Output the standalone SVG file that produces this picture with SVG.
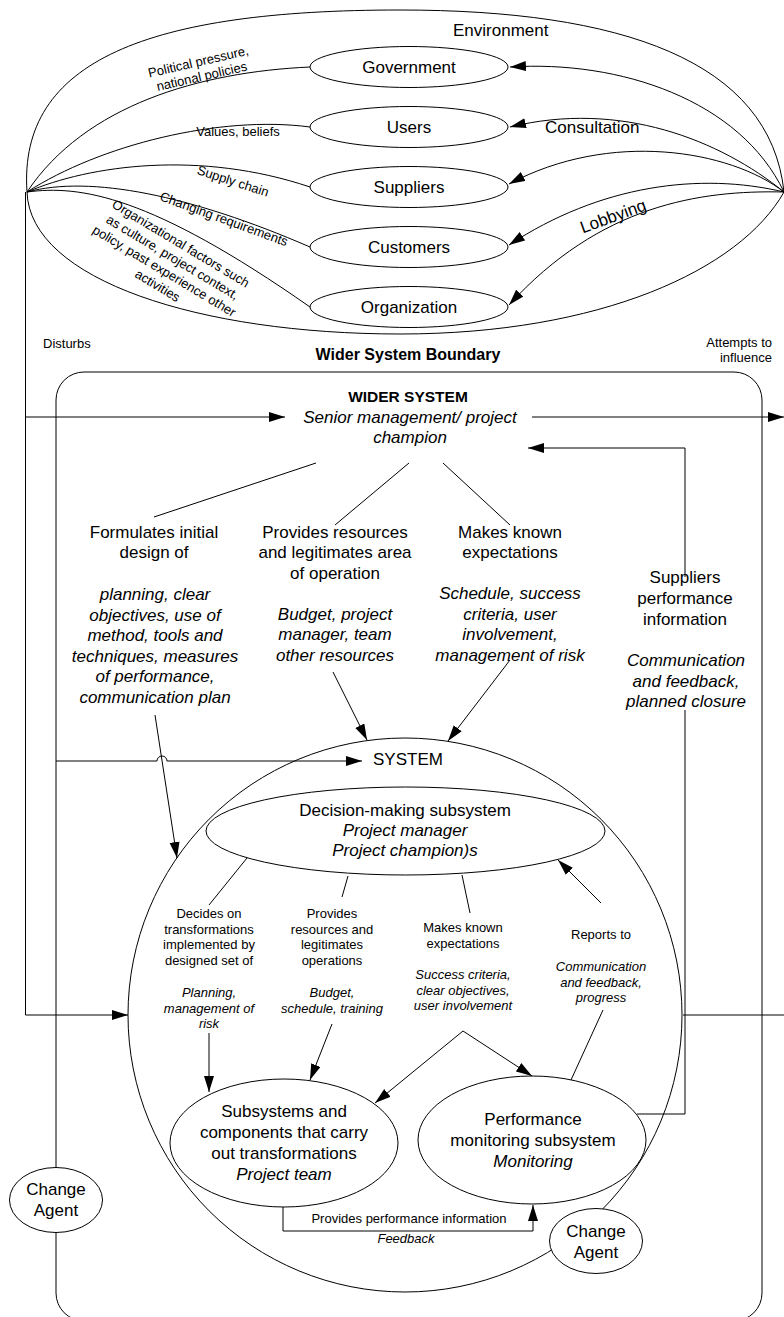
<svg xmlns="http://www.w3.org/2000/svg" width="784" height="1317" viewBox="0 0 784 1317">
  <style>
    text { font-family: "Liberation Sans", Arial, sans-serif; fill: #000; }
    .t17 { font-size: 17px; }
    .t13 { font-size: 13px; }
    .it { font-style: italic; }
    .b { font-weight: bold; }
    .mid { text-anchor: middle; }
    .end { text-anchor: end; }
    .ln { fill: none; stroke: #000; stroke-width: 1; }
    .arr { fill: none; stroke: #000; stroke-width: 1; marker-end: url(#head); }
    .node { fill: #fff; stroke: #000; stroke-width: 1; }
    .open { fill: none; stroke: #000; stroke-width: 1; }
  </style>
  <defs>
    <marker id="head" markerUnits="userSpaceOnUse" markerWidth="17" markerHeight="11" refX="16" refY="5" orient="auto">
      <path d="M0,0 L16,5 L0,10 z" fill="#000"/>
    </marker>
  </defs>
  <rect width="784" height="1317" fill="#fff"/>

  <!-- environment boundary (lens shape) -->
  <g id="environment">
    <path class="ln" d="M27,192 C18,60 150,10 400,10 C620,10 770,60 784,192"/>
    <path class="ln" d="M27,192 C30,280 200,334 400,334 C600,334 740,270 784,192"/>
    <text class="t17" x="453" y="36">Environment</text>
  </g>

  <!-- wider system boundary -->
  <g id="wider-system-boundary">
    <rect class="open" x="56" y="372" width="706" height="949" rx="28" ry="28"/>
    <text class="b mid" style="font-size:16px" x="408" y="360">Wider System Boundary</text>
  </g>

  <!-- the system -->
  <g id="system">
    <circle class="open" cx="405" cy="1015" r="277"/>
    <text class="t17" x="373" y="765">SYSTEM</text>
  </g>

  <!-- environment actors -->
  <g id="government">
    <ellipse class="node" cx="409" cy="67" rx="99" ry="20.5"/>
    <text class="t17 mid" x="409" y="73">Government</text>
  </g>
  <g id="users">
    <ellipse class="node" cx="409" cy="127" rx="99" ry="20.5"/>
    <text class="t17 mid" x="409" y="133">Users</text>
  </g>
  <g id="suppliers">
    <ellipse class="node" cx="409" cy="187" rx="99" ry="20.5"/>
    <text class="t17 mid" x="409" y="193">Suppliers</text>
  </g>
  <g id="customers">
    <ellipse class="node" cx="409" cy="247" rx="99" ry="20.5"/>
    <text class="t17 mid" x="409" y="253">Customers</text>
  </g>
  <g id="organization">
    <ellipse class="node" cx="409" cy="307" rx="99" ry="20.5"/>
    <text class="t17 mid" x="409" y="313">Organization</text>
  </g>

  <!-- wider system -->
  <g id="wider-system">
    <text class="b mid" style="font-size:15.5px" x="408" y="402">WIDER SYSTEM</text>
    <text class="t17 it mid" x="410" y="423">Senior management/ project</text>
    <text class="t17 it mid" x="410" y="443">champion</text>
  </g>

  <!-- subsystems -->
  <g id="decision-making">
    <ellipse class="open" cx="405.5" cy="831" rx="199.5" ry="44"/>
    <text class="t17 mid" x="405" y="816">Decision-making subsystem</text>
    <text class="t17 it mid" x="405" y="836">Project manager</text>
    <text class="t17 it mid" x="405" y="856">Project champion)s</text>
  </g>
  <g id="transformations">
    <ellipse class="open" cx="284" cy="1143" rx="114" ry="64"/>
    <text class="t17 mid" x="284" y="1117">Subsystems and</text>
    <text class="t17 mid" x="284" y="1138">components that carry</text>
    <text class="t17 mid" x="284" y="1159">out transformations</text>
    <text class="t17 it mid" x="284" y="1180">Project team</text>
  </g>
  <g id="monitoring">
    <ellipse class="open" cx="532" cy="1140" rx="114" ry="64"/>
    <text class="t17 mid" x="533" y="1125">Performance</text>
    <text class="t17 mid" x="533" y="1146">monitoring subsystem</text>
    <text class="t17 it mid" x="533" y="1167">Monitoring</text>
  </g>
  <g id="change-agent-left">
    <ellipse class="node" cx="56" cy="1200" rx="46.5" ry="32.5"/>
    <text class="t17 mid" x="56" y="1195">Change</text>
    <text class="t17 mid" x="56" y="1216">Agent</text>
  </g>
  <g id="change-agent-right">
    <ellipse class="node" cx="596" cy="1241" rx="46.5" ry="32.5"/>
    <text class="t17 mid" x="596" y="1237">Change</text>
    <text class="t17 mid" x="596" y="1258">Agent</text>
  </g>

  <!-- connectors -->
  <g id="connectors">
    <!-- environment influences on the actors -->
    <path class="ln" d="M27,192 C85,105 200,72 310,67"/>
    <path class="ln" d="M27,192 C100,145 220,115 310,127"/>
    <path class="ln" d="M27,192 C90,165 200,150 310,187"/>
    <path class="ln" d="M27,192 C90,175 190,195 310,247"/>
    <path class="ln" d="M27,192 C80,185 150,195 310,307"/>

    <!-- lobbying / consultation from the wider system -->
    <path class="arr" d="M784,192 C740,100 620,60 510,67"/>
    <path class="arr" d="M784,192 C720,140 620,100 510,127"/>
    <path class="arr" d="M784,192 C730,150 610,130 509,184"/>
    <path class="arr" d="M784,192 C700,172 600,185 509,245"/>
    <path class="arr" d="M784,192 C700,190 600,205 509,305"/>

    <!-- disturbances -->
    <path class="ln" d="M25.5,192 V1015"/>
    <path class="arr" d="M25.5,417 H285"/>
    <path class="arr" d="M25.5,1015 H128"/>
    <path class="arr" d="M56,761 H157 A5,5 0 0 1 167,761 H362"/>

    <!-- attempts to influence -->
    <path class="arr" d="M532,417 H784"/>
    <path class="ln" d="M683,1015 H784"/>

    <!-- wider system outputs -->
    <path class="ln" d="M316,463 L154,517"/>
    <path class="ln" d="M409,463 L335,525"/>
    <path class="ln" d="M443,463 L510,525"/>
    <path class="arr" d="M155,715 L177,858"/>
    <path class="arr" d="M333,672 L367,740"/>
    <path class="arr" d="M510,660 L448,741"/>

    <!-- supplier performance feedback -->
    <path class="ln" d="M637,1114 H685 V710"/>
    <path class="arr" d="M685,577 V448 H528"/>

    <!-- decision-making outputs -->
    <path class="ln" d="M247,858 L209,905"/>
    <path class="ln" d="M348,876 L342,897"/>
    <path class="ln" d="M462,875 L470,913"/>
    <path class="arr" d="M209,1033 V1092"/>
    <path class="arr" d="M332,1024 L310,1080"/>
    <path class="arr" d="M463,1031 L375,1103"/>
    <path class="arr" d="M463,1031 L532,1076"/>

    <!-- reporting -->
    <path class="arr" d="M601,903 L558,860"/>
    <path class="ln" d="M603,1010 L571,1080"/>

    <!-- performance information -->
    <path class="arr" d="M283,1207 V1231 H533 V1205"/>
  </g>

  <!-- connector labels -->
  <g id="labels">
    <text class="t13 mid" transform="translate(200,69) rotate(-13)"><tspan x="0" y="-3">Political pressure,</tspan><tspan x="0" y="12">national policies</tspan></text>
    <text class="t13 mid" x="238" y="136">Values, beliefs</text>
    <text class="t13 mid" transform="translate(233,181) rotate(18)" x="0" y="4.5">Supply chain</text>
    <text class="t13 mid" transform="translate(224,219) rotate(20)" x="0" y="4.5">Changing requirements</text>
    <text class="t13 mid" transform="translate(170,265) rotate(31)">
      <tspan x="0" y="-19.5">Organizational factors such</tspan>
      <tspan x="0" y="-3.5">as culture, project context,</tspan>
      <tspan x="0" y="12.5">policy, past experience other</tspan>
      <tspan x="0" y="28.5">activities</tspan>
    </text>
    <text class="t17" x="545" y="133">Consultation</text>
    <text class="t17 mid" transform="translate(613,216) rotate(-20)" x="0" y="6">Lobbying</text>
    <text class="t13" x="43" y="348">Disturbs</text>
    <text class="t13 end" x="772" y="347">Attempts to</text>
    <text class="t13 end" x="772" y="362">influence</text>

    <text class="t17 mid" x="154" y="538">Formulates initial</text>
    <text class="t17 mid" x="154" y="558">design of</text>
    <text class="t17 it mid" x="155" y="600">planning, clear</text>
    <text class="t17 it mid" x="155" y="620.5">objectives, use of</text>
    <text class="t17 it mid" x="155" y="641">method, tools and</text>
    <text class="t17 it mid" x="155" y="661.5">techniques, measures</text>
    <text class="t17 it mid" x="155" y="682">of performance,</text>
    <text class="t17 it mid" x="155" y="702.5">communication plan</text>

    <text class="t17 mid" x="335" y="538">Provides resources</text>
    <text class="t17 mid" x="335" y="558">and legitimates area</text>
    <text class="t17 mid" x="335" y="578.5">of operation</text>
    <text class="t17 it mid" x="335" y="619.5">Budget, project</text>
    <text class="t17 it mid" x="335" y="640">manager, team</text>
    <text class="t17 it mid" x="335" y="660.5">other resources</text>

    <text class="t17 mid" x="510" y="538">Makes known</text>
    <text class="t17 mid" x="510" y="558">expectations</text>
    <text class="t17 it mid" x="510" y="599">Schedule, success</text>
    <text class="t17 it mid" x="510" y="619.5">criteria, user</text>
    <text class="t17 it mid" x="510" y="640">involvement,</text>
    <text class="t17 it mid" x="510" y="660.5">management of risk</text>

    <text class="t17 mid" x="685" y="583">Suppliers</text>
    <text class="t17 mid" x="685" y="604">performance</text>
    <text class="t17 mid" x="685" y="625">information</text>
    <text class="t17 it mid" x="686" y="666">Communication</text>
    <text class="t17 it mid" x="686" y="686.5">and feedback,</text>
    <text class="t17 it mid" x="686" y="707">planned closure</text>

    <text class="t13 mid" x="209" y="918">Decides on</text>
    <text class="t13 mid" x="209" y="933.5">transformations</text>
    <text class="t13 mid" x="209" y="949">implemented by</text>
    <text class="t13 mid" x="209" y="964.5">designed set of</text>
    <text class="t13 it mid" x="209" y="997">Planning,</text>
    <text class="t13 it mid" x="209" y="1012.5">management of</text>
    <text class="t13 it mid" x="209" y="1028">risk</text>

    <text class="t13 mid" x="332" y="918">Provides</text>
    <text class="t13 mid" x="332" y="933.5">resources and</text>
    <text class="t13 mid" x="332" y="949">legitimates</text>
    <text class="t13 mid" x="332" y="964.5">operations</text>
    <text class="t13 it mid" x="332" y="997">Budget,</text>
    <text class="t13 it mid" x="332" y="1012.5">schedule, training</text>

    <text class="t13 mid" x="463" y="932">Makes known</text>
    <text class="t13 mid" x="463" y="947.5">expectations</text>
    <text class="t13 it mid" x="463" y="979">Success criteria,</text>
    <text class="t13 it mid" x="463" y="994.5">clear objectives,</text>
    <text class="t13 it mid" x="463" y="1010">user involvement</text>

    <text class="t13 mid" x="601" y="939">Reports to</text>
    <text class="t13 it mid" x="601" y="971">Communication</text>
    <text class="t13 it mid" x="601" y="986.5">and feedback,</text>
    <text class="t13 it mid" x="601" y="1002">progress</text>

    <text class="t13 mid" x="409" y="1223">Provides performance information</text>
    <text class="t13 it mid" x="406" y="1243">Feedback</text>
  </g>
</svg>
